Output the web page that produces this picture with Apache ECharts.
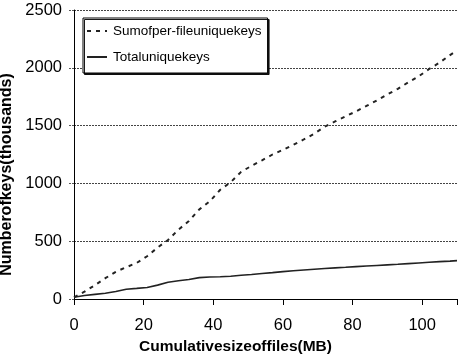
<!DOCTYPE html>
<html>
<head>
<meta charset="utf-8">
<script src="https://cdn.jsdelivr.net/npm/echarts@6/dist/echarts.min.js"></script>
<style>
html,body{margin:0;padding:0;background:#fff;}
#chart{width:458px;height:358px;}
</style>
</head>
<body>
<div id="chart"></div>
<script>
var sizeMB = [0,3,6,9,12,15,18,21,24,27,30,33,36,39,42,45,48,51,54,57,60,63,66,69,72,75,78,81,84,87,90,93,96,99,102,105,108,110];
var sumPerFile = [15,63,120,180,235,275,312,370,445,510,600,675,775,845,945,1010,1100,1152,1200,1250,1290,1334,1380,1430,1490,1536,1580,1623,1670,1718,1770,1818,1874,1926,1990,2045,2110,2150];
var totalUnique = [15,30,40,50,65,85,92,100,120,145,158,168,185,190,193,197,205,212,220,228,237,244,251,258,264,269,274,280,285,290,295,300,306,312,318,323,328,332];
var seriesNames = ['Sumofper-fileuniquekeys','Totaluniquekeys'];
var xTicks = [0,20,40,60,80,100];
var yTicks = [0,500,1000,1500,2000,2500];

function pairs(xs, ys){ return xs.map(function(x,i){return [x, ys[i]];}); }

var chart = echarts.init(document.getElementById('chart'), null, {renderer:'canvas'});
var font = 'Arial, "Liberation Sans", sans-serif';
chart.setOption({
  animation:false,
  backgroundColor:'#fff',
  grid:{left:74, right:1, top:10, bottom:59, containLabel:false, outerBoundsMode:'none'},
  legend:{
    orient:'vertical', left:83, top:18,
    backgroundColor:'#fff', borderColor:'#000', borderWidth:1,
    shadowColor:'rgba(0,0,0,0.9)', shadowOffsetX:1.5, shadowOffsetY:1.5, shadowBlur:0,
    padding:[6,6,9,3], itemGap:12, itemWidth:20, itemHeight:14,
    itemStyle:{color:'rgba(0,0,0,0)', borderWidth:0, opacity:0},
    textStyle:{fontFamily:font, fontSize:13.5, color:'#000', padding:[0,0,0,1]},
    data:seriesNames
  },
  xAxis:{
    type:'value', min:0, max:110, interval:20,
    name:'Cumulativesizeoffiles(MB)', nameLocation:'middle', nameGap:36,
    nameTextStyle:{fontFamily:font, fontSize:15.5, fontWeight:'bold', color:'#000', padding:[0,60,0,0]},
    axisLine:{show:true, lineStyle:{color:'#000', width:1}},
    axisTick:{show:true, length:6, inside:false, lineStyle:{color:'#000'}},
    axisLabel:{fontFamily:font, fontSize:16.5, color:'#000', margin:18,
      formatter:function(v){ return xTicks.indexOf(v)>=0 ? String(v) : ''; }},
    splitLine:{show:false}
  },
  yAxis:{
    type:'value', min:0, max:2500, interval:500,
    name:'Numberofkeys(thousands)', nameLocation:'middle', nameGap:44, nameRotate:90,
    nameTextStyle:{fontFamily:font, fontSize:16, fontWeight:'bold', color:'#000', padding:[0,40,0,0]},
    axisLine:{show:true, lineStyle:{color:'#000', width:1}},
    axisTick:{show:true, length:5, lineStyle:{color:'#555', type:[2,1]}},
    axisLabel:{fontFamily:font, fontSize:16.5, color:'#000', margin:12,
      formatter:function(v){ return yTicks.indexOf(v)>=0 ? String(v) : ''; }},
    splitLine:{show:true, lineStyle:{color:'#444', width:1, type:[2,1]}}
  },
  series:[
    {name:seriesNames[0], type:'line', data:pairs(sizeMB,sumPerFile), symbol:'none', showSymbol:false,
     lineStyle:{color:'#222', width:2, type:[4,5]}, itemStyle:{color:'#222'}},
    {name:seriesNames[1], type:'line', data:pairs(sizeMB,totalUnique), symbol:'none', showSymbol:false,
     lineStyle:{color:'#222', width:1.6, type:'solid'}, itemStyle:{color:'#222'}}
  ]
});
</script>
</body>
</html>
